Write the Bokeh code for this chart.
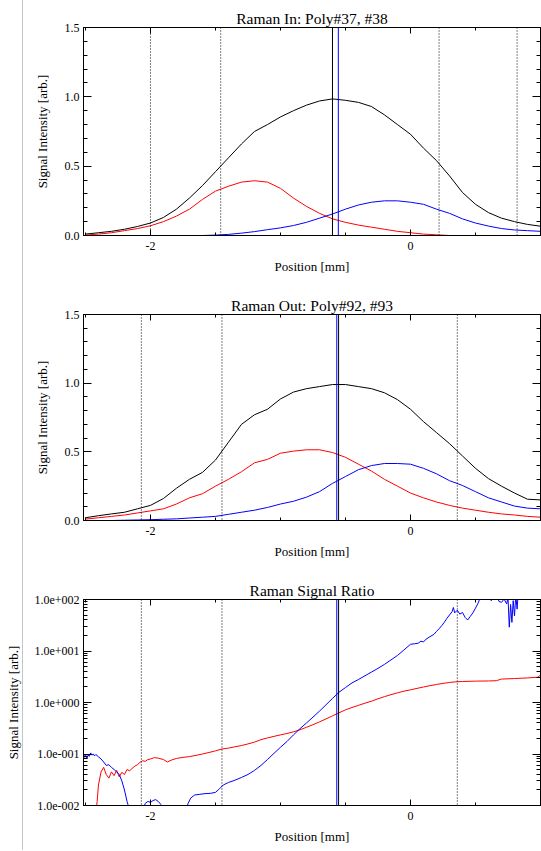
from bokeh.plotting import figure
from bokeh.models import (LinearAxis, LogAxis, FixedTicker, Span, Range1d,
                          PrintfTickFormatter, CustomJSTickFormatter)
from bokeh.layouts import column
from bokeh.embed import file_html
from bokeh.resources import INLINE

FONT = "Liberation Serif"

# ---------------- data ----------------
pos = [-2.5, -2.4, -2.3, -2.2, -2.1, -2.0, -1.9, -1.8, -1.7, -1.6, -1.5, -1.4,
       -1.3, -1.2, -1.1, -1.0, -0.9, -0.8, -0.7, -0.6, -0.5, -0.4, -0.3, -0.2,
       -0.1, 0.0, 0.1, 0.2, 0.3, 0.4, 0.5, 0.6, 0.7, 0.8, 0.9, 1.0]

in_total = [0.01, 0.02, 0.03, 0.045, 0.065, 0.09, 0.13, 0.19, 0.27, 0.36, 0.46, 0.56,
            0.66, 0.75, 0.80, 0.855, 0.90, 0.94, 0.97, 0.985, 0.975, 0.96, 0.93, 0.87,
            0.80, 0.73, 0.63, 0.54, 0.43, 0.31, 0.225, 0.165, 0.125, 0.10, 0.08, 0.067]
in_red = [0.003, 0.01, 0.02, 0.035, 0.05, 0.07, 0.10, 0.14, 0.19, 0.26, 0.32, 0.355,
          0.385, 0.395, 0.385, 0.34, 0.27, 0.21, 0.16, 0.12, 0.095, 0.075, 0.06, 0.045,
          0.03, 0.02, 0.01, 0.005, 0.0, 0.0, 0.0, 0.0, 0.0, 0.0, 0.0, 0.0]
in_blue = [0.0, 0.0, 0.0, 0.0, 0.0, 0.0, 0.0, 0.0, 0.0, 0.0, 0.003, 0.008,
           0.017, 0.028, 0.042, 0.055, 0.072, 0.095, 0.125, 0.155, 0.19, 0.22, 0.24, 0.25,
           0.25, 0.24, 0.225, 0.19, 0.16, 0.12, 0.09, 0.068, 0.05, 0.04, 0.035, 0.03]

out_total = [0.02, 0.035, 0.048, 0.06, 0.085, 0.11, 0.16, 0.235, 0.30, 0.35, 0.44, 0.57,
             0.70, 0.77, 0.81, 0.885, 0.935, 0.96, 0.975, 0.99, 0.99, 0.975, 0.96, 0.93,
             0.88, 0.81, 0.72, 0.64, 0.56, 0.47, 0.38, 0.305, 0.25, 0.20, 0.155, 0.15]
out_red = [0.01, 0.02, 0.03, 0.04, 0.055, 0.07, 0.085, 0.12, 0.165, 0.195, 0.25, 0.30,
           0.355, 0.42, 0.445, 0.49, 0.505, 0.515, 0.515, 0.495, 0.46, 0.41, 0.36, 0.30,
           0.25, 0.20, 0.165, 0.135, 0.11, 0.09, 0.075, 0.06, 0.048, 0.04, 0.03, 0.024]
out_blue = [0.0, 0.0, 0.0, 0.002, 0.004, 0.006, 0.009, 0.012, 0.018, 0.024, 0.03, 0.045,
            0.06, 0.075, 0.095, 0.12, 0.14, 0.17, 0.21, 0.27, 0.32, 0.37, 0.40, 0.415,
            0.415, 0.41, 0.38, 0.34, 0.29, 0.255, 0.21, 0.165, 0.135, 0.105, 0.09, 0.085]

ratio_red_x = [-2.42, -2.41, -2.40, -2.38, -2.36, -2.34, -2.32, -2.30, -2.28, -2.26, -2.24,
               -2.22, -2.20, -2.18, -2.16, -2.14, -2.12, -2.10, -2.08, -2.06, -2.04, -2.02,
               -2.00, -1.97, -1.94, -1.90, -1.87, -1.84, -1.80, -1.75, -1.70, -1.65, -1.60,
               -1.55, -1.50, -1.45, -1.40, -1.35, -1.30, -1.25, -1.20, -1.15, -1.10, -1.05,
               -1.00, -0.95, -0.90, -0.85, -0.80, -0.75, -0.70, -0.65, -0.60, -0.55, -0.50,
               -0.45, -0.40, -0.35, -0.30, -0.25, -0.20, -0.15, -0.10, -0.05, 0.00, 0.05,
               0.10, 0.15, 0.20, 0.25, 0.30, 0.35, 0.40, 0.50, 0.60, 0.66, 0.70, 0.80,
               0.90, 0.98, 1.00]
ratio_red = [0.007, 0.012, 0.025, 0.045, 0.055, 0.040, 0.034, 0.045, 0.038, 0.048, 0.036,
             0.044, 0.040, 0.050, 0.047, 0.053, 0.058, 0.062, 0.069, 0.074, 0.072, 0.078,
             0.080, 0.085, 0.083, 0.078, 0.070, 0.076, 0.082, 0.086, 0.089, 0.094, 0.100,
             0.107, 0.115, 0.125, 0.130, 0.138, 0.146, 0.157, 0.170, 0.190, 0.205, 0.220,
             0.235, 0.250, 0.27, 0.295, 0.33, 0.37, 0.42, 0.48, 0.55, 0.63, 0.72,
             0.80, 0.88, 0.97, 1.06, 1.18, 1.30, 1.42, 1.54, 1.66, 1.76, 1.88,
             2.00, 2.12, 2.24, 2.35, 2.45, 2.52, 2.56, 2.60, 2.62, 2.65, 2.85, 2.92,
             3.00, 3.10, 3.40]

ratio_blue_x = [-2.51, -2.50, -2.49, -2.48, -2.47, -2.46, -2.45, -2.44, -2.43, -2.42, -2.40,
                -2.38, -2.36, -2.34, -2.32, -2.30, -2.28, -2.26, -2.24, -2.22, -2.20, -2.18,
                -2.16, -2.06, -2.04, -2.02, -2.00, -1.98, -1.96, -1.94, -1.92, -1.90, -1.73,
                -1.71, -1.69, -1.66, -1.62, -1.58, -1.54, -1.50, -1.47, -1.44, -1.40, -1.35,
                -1.30, -1.25, -1.20, -1.15, -1.10, -1.05, -1.00, -0.95, -0.90, -0.85, -0.80,
                -0.75, -0.70, -0.65, -0.60, -0.55, -0.50, -0.45, -0.40, -0.35, -0.30, -0.25,
                -0.20, -0.15, -0.10, -0.05, 0.00, 0.03, 0.06, 0.08, 0.10, 0.12, 0.15,
                0.18, 0.20, 0.22, 0.24, 0.26, 0.28, 0.30, 0.32, 0.33, 0.34, 0.36,
                0.38, 0.40, 0.42, 0.44, 0.46, 0.48, 0.50, 0.52, 0.54, 0.56, 0.58,
                0.60, 0.62, 0.64, 0.66, 0.68, 0.70, 0.72, 0.74, 0.75, 0.76, 0.77,
                0.78, 0.79, 0.80, 0.81, 0.82, 0.83, 0.86, 0.92, 1.00]
ratio_blue = [0.085, 0.100, 0.080, 0.095, 0.090, 0.105, 0.095, 0.100, 0.092, 0.098, 0.088,
              0.080, 0.070, 0.060, 0.062, 0.055, 0.050, 0.045, 0.040, 0.030, 0.020, 0.012,
              0.008, 0.008, 0.011, 0.012, 0.0115, 0.0125, 0.013, 0.012, 0.0105, 0.009, 0.008,
              0.011, 0.014, 0.016, 0.0165, 0.017, 0.0172, 0.018, 0.021, 0.025, 0.028, 0.031,
              0.035, 0.040, 0.048, 0.060, 0.078, 0.103, 0.135, 0.175, 0.235, 0.31, 0.40,
              0.52, 0.68, 0.90, 1.20, 1.58, 1.95, 2.4, 2.8, 3.3, 3.9, 4.6,
              5.5, 6.7, 8.2, 10.5, 13.5, 13.8, 14.2, 15.5, 15.0, 17.0, 19.0,
              21.0, 24.0, 27.0, 31.0, 36.0, 43.0, 50.0, 58.0, 70.0, 55.0, 62.0,
              52.0, 56.0, 45.0, 40.0, 47.0, 55.0, 68.0, 85.0, 115.0, 140.0, 98.0,
              130.0, 95.0, 105.0, 140.0, 92.0, 88.0, 102.0, 82.0, 110.0, 29.0, 80.0,
              36.0, 95.0, 48.0, 120.0, 65.0, 150.0, 220.0, 260.0, 300.0]

in_dotted = [-2.0, -1.46, 0.22, 0.82]
in_black_mark = -0.60
in_blue_mark = -0.555
out_dotted = [-2.07, -1.45, 0.36]
out_black_mark = -0.553
out_blue_mark = -0.567

x_ticks = [-2, 0]
x_tick_labels = ["-2", "0"]
x_minor = [-2.5, -1.5, -1.0, -0.5, 0.5, 1.0]
lin_ticks = [0.0, 0.5, 1.0, 1.5]
lin_minor = [0.1, 0.2, 0.3, 0.4, 0.6, 0.7, 0.8, 0.9, 1.1, 1.2, 1.3, 1.4]
log_ticks = [0.01, 0.1, 1.0, 10.0, 100.0]
log_tick_labels = ["1.0e-002", "1.0e-001", "1.0e+000", "1.0e+001", "1.0e+002"]
log_minor = [m * 10.0 ** e for e in range(-2, 2) for m in range(2, 10)]

titles = ["Raman In: Poly#37, #38", "Raman Out: Poly#92, #93", "Raman Signal Ratio"]
x_label = "Position [mm]"
y_label = "Signal Intensity [arb.]"

W = 541
BLANK = "return ''"


def style_axis(ax, show):
    ax.axis_line_color = "black"
    ax.axis_line_width = 1
    ax.major_tick_line_color = "black"
    ax.minor_tick_line_color = "black"
    ax.major_tick_out = 0
    ax.minor_tick_out = 0
    ax.major_label_text_font = FONT
    ax.major_label_text_color = "black"
    ax.axis_label_text_font = FONT
    ax.axis_label_text_font_size = "13px"
    ax.axis_label_text_font_style = "normal"
    ax.axis_label_text_color = "black"
    if show:
        ax.major_label_text_font_size = "12px"
    else:
        ax.formatter = CustomJSTickFormatter(code=BLANK)
        ax.major_label_overrides = {}
        ax.major_label_text_font_size = "0px"
        ax.major_label_standoff = 0


def make_fig(title, height, top, bottom, log=False, yl_standoff=12):
    kw = dict(width=W, height=height, output_backend="svg", toolbar_location=None,
              x_range=Range1d(-2.515, 1.0), min_border_left=83, min_border_right=1,
              min_border_top=top, min_border_bottom=bottom,
              x_axis_location=None, y_axis_location=None, title=title)
    if log:
        kw["y_range"] = Range1d(0.01, 100.0)
        kw["y_axis_type"] = "log"
    else:
        kw["y_range"] = Range1d(0.0, 1.5)
    p = figure(**kw)
    p.grid.visible = False
    p.outline_line_color = "black"
    p.background_fill_color = "white"
    p.border_fill_color = None
    p.title.align = "center"
    p.title.text_font = FONT
    p.title.text_font_size = "15.5px"
    p.title.text_font_style = "normal"
    p.title.text_color = "black"
    p.title.standoff = 2

    for loc in ("below", "above"):
        ax = LinearAxis(ticker=FixedTicker(ticks=x_ticks, minor_ticks=x_minor),
                        major_label_overrides=dict(zip(x_ticks, x_tick_labels)))
        style_axis(ax, loc == "below")
        ax.major_tick_in = 6
        ax.minor_tick_in = 3
        if loc == "below":
            ax.axis_label = x_label
            ax.major_label_standoff = 6
            ax.axis_label_standoff = 6
        p.add_layout(ax, loc)

    for loc in ("left", "right"):
        if log:
            ax = LogAxis(ticker=FixedTicker(ticks=log_ticks, minor_ticks=log_minor),
                         major_label_overrides=dict(zip(log_ticks, log_tick_labels)))
        else:
            ax = LinearAxis(ticker=FixedTicker(ticks=lin_ticks, minor_ticks=lin_minor),
                            formatter=PrintfTickFormatter(format="%.1f"))
        style_axis(ax, loc == "left")
        ax.major_tick_in = 8
        ax.minor_tick_in = 4
        if loc == "left":
            ax.axis_label = y_label
            ax.major_label_standoff = 4
            ax.axis_label_standoff = yl_standoff
        p.add_layout(ax, loc)
    return p


def add_marks(p, dotted, black_mark, blue_mark):
    for d in dotted:
        p.add_layout(Span(location=d, dimension="height", line_color="black",
                          line_width=1, line_dash="1 2"))
    p.add_layout(Span(location=black_mark, dimension="height", line_color="black",
                      line_width=1))
    p.add_layout(Span(location=blue_mark, dimension="height", line_color="#0000ff",
                      line_width=1))


p1 = make_fig(titles[0], 293, 27, 58)
add_marks(p1, in_dotted, in_black_mark, in_blue_mark)
p1.line(pos, in_total, line_color="black", line_width=1)
p1.line(pos, in_red, line_color="#ff0000", line_width=1)
p1.line(pos, in_blue, line_color="#0000ff", line_width=1)

p2 = make_fig(titles[1], 285, 19, 58)
add_marks(p2, out_dotted, out_black_mark, out_blue_mark)
p2.line(pos, out_total, line_color="black", line_width=1)
p2.line(pos, out_red, line_color="#ff0000", line_width=1)
p2.line(pos, out_blue, line_color="#0000ff", line_width=1)

p3 = make_fig(titles[2], 272, 20, 45, log=True, yl_standoff=10)
add_marks(p3, out_dotted, out_black_mark, out_blue_mark)
p3.line(ratio_red_x, ratio_red, line_color="#ff0000", line_width=1)
p3.line(ratio_blue_x, ratio_blue, line_color="#0000ff", line_width=1)

layout = column(p1, p2, p3, spacing=0, styles={
    "background-color": "white",
    "background-image": "linear-gradient(90deg, transparent 22px, #c4c4c4 22px, "
                        "#c4c4c4 23.5px, transparent 23.5px)"})
open("out.html", "w").write(file_html(layout, INLINE))
